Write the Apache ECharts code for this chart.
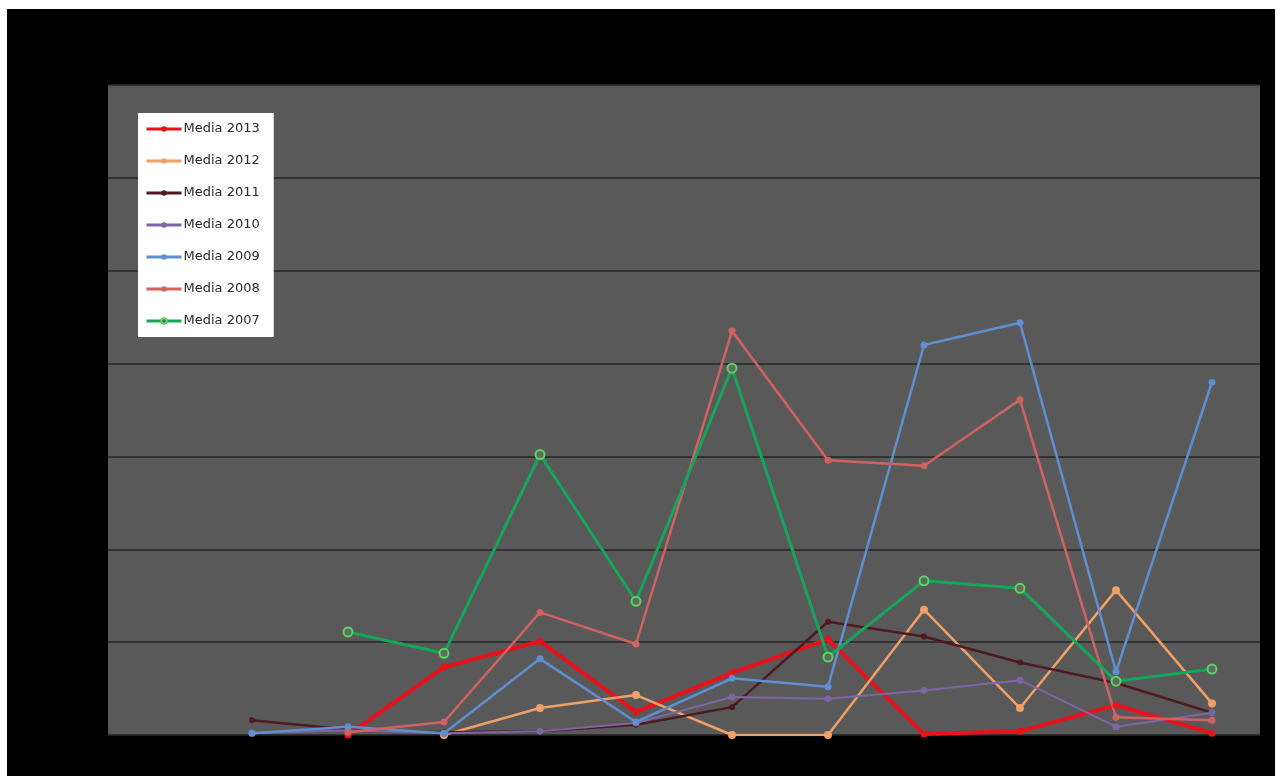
<!DOCTYPE html>
<html>
<head>
<meta charset="utf-8">
<title>Media</title>
<script src="https://cdn.jsdelivr.net/npm/echarts@6/dist/echarts.min.js"></script>
<style>
html, body { margin: 0; padding: 0; background: #ffffff; }
#echart1 { position: absolute; left: 7px; top: 9px; width: 1268px; height: 767px; background: #000000; }
</style>
</head>
<body>
<div id="echart1"></div>
<script>
// 12 categorie (etichette non visibili nel grafico originale)
var categories = [ '1', '2', '3', '4', '5', '6', '7', '8', '9', '10', '11', '12' ];
var seriesNames = [ 'Media 2013', 'Media 2012', 'Media 2011', 'Media 2010', 'Media 2009', 'Media 2008', 'Media 2007' ];
var yTicks = [ 0, 10, 20, 30, 40, 50, 60, 70 ];

var media2013 = [ null, null, 0, 7.3, 10.1, 2.5, 6.7, 10.3, 0.1, 0.4, 3.2, 0.2 ];
var media2012 = [ null, null, null, 0, 2.9, 4.3, 0, 0, 13.5, 2.9, 15.6, 3.4 ];
var media2011 = [ null, 1.6, 0.6, 0.3, 0.4, 1.1, 3.0, 12.2, 10.6, 7.8, 5.6, 2.4 ];
var media2010 = [ null, 0.2, 0.5, 0.2, 0.4, 1.3, 4.1, 3.9, 4.8, 5.9, 0.9, 2.4 ];
var media2009 = [ null, 0.2, 0.9, 0.2, 8.2, 1.4, 6.1, 5.2, 42.0, 44.4, 6.8, 38.0 ];
var media2008 = [ null, null, 0.3, 1.4, 13.2, 9.8, 43.5, 29.6, 29.0, 36.1, 1.9, 1.6 ];
var media2007 = [ null, null, 11.1, 8.8, 30.2, 14.4, 39.5, 8.4, 16.6, 15.8, 5.8, 7.1 ];

function makeSeries(name, data, color, width, symbolSize, fill, borderColor) {
	return {
		name : name,
		type : 'line',
		data : data,
		symbol : 'circle',
		symbolSize : symbolSize,
		lineStyle : {
			color : color,
			width : width
		},
		itemStyle : {
			color : fill,
			borderColor : borderColor,
			borderWidth : fill == color ? 0 : 2
		},
		emphasis : {
			disabled : true
		},
		animation : false
	};
}

function chartDiv() {
	var option = {
		grid : {
			left : 101,// 左边距
			top : 76,// 上边距
			width : 1152,
			height : 650,
			show : true,
			backgroundColor : '#595959',
			borderWidth : 0
		},
		legend : {
			orient : 'vertical',
			left : 131,
			top : 104,
			data : seriesNames,
			backgroundColor : '#ffffff',
			padding : [ 8, 14, 8, 7 ],
			itemWidth : 35,
			itemHeight : 7,
			itemGap : 16,
			lineStyle : {
				width : 3
			},
			textStyle : {
				fontFamily : 'DejaVu Sans',
				fontSize : 13,
				color : '#2a2a2a',
				lineHeight : 16,
				padding : [ 0, 0, 0, -3 ]
			}
		},
		xAxis : {
			type : 'category',
			data : categories,
			boundaryGap : true,
			axisLine : { show : false },
			axisTick : { show : false },
			axisLabel : { show : false }
		},
		yAxis : {
			type : 'value',
			min : yTicks[0],
			max : yTicks[yTicks.length - 1],
			interval : yTicks[1] - yTicks[0],
			axisLabel : { show : false },
			axisLine : { show : false },
			splitLine : {
				show : true,
				lineStyle : {
					color : '#262626',
					width : 1.5
				}
			}
		},
		series : [
			makeSeries(seriesNames[0], media2013, '#E8121C', 4, 7, '#E8121C', '#E8121C'),
			makeSeries(seriesNames[1], media2012, '#EFA068', 2.5, 8, '#EFA068', '#EFA068'),
			makeSeries(seriesNames[2], media2011, '#4E1A22', 2.5, 6, '#4E1A22', '#4E1A22'),
			makeSeries(seriesNames[3], media2010, '#7E66A2', 2, 7, '#7E66A2', '#7E66A2'),
			makeSeries(seriesNames[4], media2009, '#5F8FD0', 2.5, 7, '#5F8FD0', '#5F8FD0'),
			makeSeries(seriesNames[5], media2008, '#D06262', 2.5, 7, '#D06262', '#D06262'),
			makeSeries(seriesNames[6], media2007, '#16A65A', 3, 9, '#5E6E5E', '#5ED463')
		]
	};
	// 创建echarts对象
	var myCharts1 = echarts.init(document.getElementById('echart1'));
	myCharts1.setOption(option, true);
}

chartDiv();
</script>
</body>
</html>
